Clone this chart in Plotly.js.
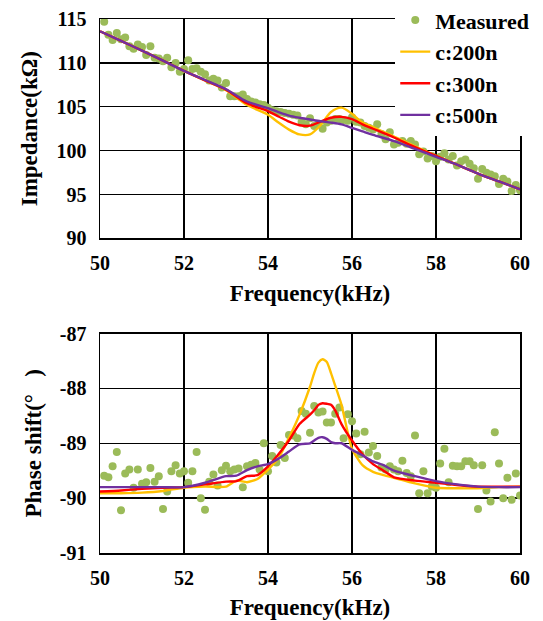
<!DOCTYPE html>
<html>
<head>
<meta charset="utf-8">
<script src="https://cdn.plot.ly/plotly-3.0.1.min.js"></script>
<style>html,body{margin:0;padding:0;background:#fff;}#chart{width:543px;height:621px;}</style>
</head>
<body>
<div id="chart"></div>
<script>
// ---- Measured frequencies (kHz) ----
const measFreq = [50.1,50.2,50.3,50.4,50.5,50.6,50.7,50.8,50.9,51.0,51.1,51.2,51.3,51.4,51.5,51.6,51.7,51.8,51.9,52.0,
52.1,52.2,52.3,52.4,52.5,52.6,52.7,52.8,52.9,53.0,53.1,53.2,53.3,53.4,53.5,53.6,53.7,53.8,53.9,54.0,
54.1,54.2,54.3,54.4,54.5,54.6,54.7,54.8,54.9,55.0,55.1,55.2,55.3,55.4,55.5,55.6,55.7,55.8,55.9,56.0,
56.1,56.2,56.3,56.4,56.5,56.6,56.7,56.8,56.9,57.0,57.1,57.2,57.3,57.4,57.5,57.6,57.7,57.8,57.9,58.0,
58.1,58.2,58.3,58.4,58.5,58.6,58.7,58.8,58.9,59.0,59.1,59.2,59.3,59.4,59.5,59.6,59.7,59.8,59.9,60.0];

// ---- Impedance measured (kOhm) ----
const measImpedance = [114.7,113.2,112.6,113.4,112.7,112.9,111.9,111.6,112.1,111.8,110.9,111.9,110.6,110.5,110.2,110.6,109.5,110.0,109.0,109.3,
110.3,109.3,109.4,109.0,108.7,108.0,108.2,108.0,107.2,107.7,106.2,106.2,106.2,106.4,105.9,105.6,105.5,105.3,105.2,104.9,
104.6,104.5,104.4,104.3,104.2,104.1,104.0,103.3,103.0,103.7,102.8,103.0,102.5,103.2,103.4,103.6,103.6,103.5,103.4,103.8,
103.3,103.2,102.8,102.6,102.4,103.0,101.9,101.3,102.1,100.7,100.9,101.1,100.8,101.1,100.7,99.6,99.9,99.1,99.4,98.8,
99.3,99.7,99.0,99.4,98.3,98.8,99.0,98.5,98.0,96.8,97.9,97.5,97.3,97.1,96.2,96.8,96.5,95.4,96.1,95.5];

// ---- Impedance model curves ----
const impFreq = [50,50.5,51,51.5,52,52.5,53,53.5,54,54.25,54.5,54.75,55,55.25,55.5,55.75,56,56.25,56.5,57,57.5,58,58.5,59,59.5,60];
const imp200n = [113.6,112.5,111.4,110.25,109.1,108.0,106.9,105.2,104.1,103.2,102.4,101.85,101.85,102.9,104.4,104.9,104.2,103.2,102.7,101.6,100.5,99.4,98.4,97.4,96.5,95.6];
const imp300n = [113.6,112.5,111.4,110.25,109.1,108.0,106.95,105.4,104.5,103.9,103.3,102.9,102.85,103.3,103.75,103.85,103.6,103.0,102.5,101.5,100.4,99.4,98.4,97.4,96.5,95.6];
const imp500n = [113.6,112.5,111.4,110.25,109.1,108.05,107.0,105.6,104.85,104.4,104.0,103.75,103.55,103.35,103.2,103.0,102.6,102.2,101.8,101.1,100.2,99.3,98.4,97.4,96.5,95.6];

// ---- Phase measured (degree) ----
const measPhase = [-89.59,-89.62,-89.42,-89.16,-90.22,-89.55,-89.48,-89.81,-89.48,-89.74,-89.71,-89.45,-89.70,-89.60,-90.20,-89.88,-89.51,-89.40,-89.55,-89.51,
-89.72,-89.51,-89.16,-90.00,-90.21,-89.70,-89.57,-89.77,-89.49,-89.41,-89.51,-89.48,-89.46,-89.80,-89.42,-89.39,-89.36,-89.48,-89.00,-89.51,
-89.23,-89.35,-89.03,-89.27,-88.85,-88.86,-88.91,-88.41,-88.46,-88.81,-88.32,-88.44,-88.42,-88.62,-88.62,-88.46,-88.35,-88.91,-88.47,-88.60,
-88.82,-89.20,-88.79,-89.17,-89.05,-89.23,-89.44,-89.48,-89.42,-89.48,-89.51,-89.32,-89.54,-89.60,-88.86,-89.91,-89.51,-89.91,-89.79,-89.81,
-89.37,-89.10,-89.71,-89.41,-89.42,-89.42,-89.33,-89.33,-89.40,-90.20,-89.40,-89.86,-90.06,-88.80,-89.37,-90.00,-89.63,-90.03,-89.55,-89.95];

// ---- Phase model curves ----
const phFreq = [50,50.5,51,51.5,52,52.5,53,53.25,53.5,53.75,54,54.25,54.5,54.75,55,55.1,55.2,55.3,55.4,55.5,55.6,55.75,56,56.25,56.5,56.75,57,57.5,58,58.5,59,59.5,60];
const ph200n = [-89.91,-89.91,-89.90,-89.87,-89.81,-89.79,-89.79,-89.68,-89.71,-89.65,-89.48,-89.27,-88.90,-88.48,-87.97,-87.72,-87.53,-87.47,-87.52,-87.72,-87.95,-88.30,-89.10,-89.40,-89.52,-89.58,-89.63,-89.73,-89.81,-89.82,-89.82,-89.80,-89.79];
const ph300n = [-89.88,-89.86,-89.83,-89.81,-89.80,-89.75,-89.70,-89.69,-89.60,-89.58,-89.42,-89.20,-88.95,-88.65,-88.48,-88.40,-88.30,-88.27,-88.28,-88.30,-88.40,-88.65,-88.95,-89.20,-89.38,-89.50,-89.62,-89.68,-89.72,-89.76,-89.79,-89.79,-89.79];
const ph500n = [-89.80,-89.80,-89.80,-89.80,-89.80,-89.72,-89.60,-89.59,-89.49,-89.42,-89.38,-89.28,-89.15,-89.02,-89.00,-88.95,-88.90,-88.89,-88.92,-88.98,-89.00,-89.00,-89.12,-89.22,-89.33,-89.40,-89.50,-89.60,-89.69,-89.75,-89.79,-89.80,-89.80];

// ---- Tick labels ----
const freqTicks = [50,52,54,56,58,60];
const impTicks = [90,95,100,105,110,115];
const phaseTicks = [-91,-90,-89,-88,-87];
const phaseTickText = ["-91","-90","-89","-88","-87"];
const seriesNames = ["Measured","c:200n","c:300n","c:500n"];

const FONT = "Liberation Serif, Times New Roman, serif";
const cMeas = "#9BBB59", c200 = "#FFC000", c300 = "#FF0000", c500 = "#7030A0";

const traces = [
  {x: measFreq, y: measImpedance, mode: "markers", type: "scatter", name: seriesNames[0],
   marker: {color: cMeas, size: 8}, xaxis: "x", yaxis: "y"},
  {x: impFreq, y: imp200n, mode: "lines", type: "scatter", name: seriesNames[1],
   line: {color: c200, width: 2.4, shape: "spline", smoothing: 0.8}, xaxis: "x", yaxis: "y"},
  {x: impFreq, y: imp300n, mode: "lines", type: "scatter", name: seriesNames[2],
   line: {color: c300, width: 2.4, shape: "spline", smoothing: 0.8}, xaxis: "x", yaxis: "y"},
  {x: impFreq, y: imp500n, mode: "lines", type: "scatter", name: seriesNames[3],
   line: {color: c500, width: 2.4, shape: "spline", smoothing: 0.8}, xaxis: "x", yaxis: "y"},
  {x: measFreq, y: measPhase, mode: "markers", type: "scatter", name: seriesNames[0], showlegend: false,
   marker: {color: cMeas, size: 8}, xaxis: "x2", yaxis: "y2"},
  {x: phFreq, y: ph200n, mode: "lines", type: "scatter", name: seriesNames[1], showlegend: false,
   line: {color: c200, width: 2.4, shape: "spline", smoothing: 0.6}, xaxis: "x2", yaxis: "y2"},
  {x: phFreq, y: ph300n, mode: "lines", type: "scatter", name: seriesNames[2], showlegend: false,
   line: {color: c300, width: 2.4, shape: "spline", smoothing: 0.6}, xaxis: "x2", yaxis: "y2"},
  {x: phFreq, y: ph500n, mode: "lines", type: "scatter", name: seriesNames[3], showlegend: false,
   line: {color: c500, width: 2.4, shape: "spline", smoothing: 0.6}, xaxis: "x2", yaxis: "y2"}
];

const tickFont = {family: FONT, size: 20, color: "#000", weight: "bold"};
const titleFont = {family: FONT, size: 23, color: "#000", weight: "bold"};

function xAx(anchor, title, standoff) {
  return {anchor: anchor, range: [50,60], tickvals: freqTicks, ticktext: freqTicks.map(String),
    showgrid: true, gridcolor: "#000", gridwidth: 1.3, showline: true, linecolor: "#000", linewidth: 1.5,
    mirror: true, zeroline: false, ticks: "", tickfont: tickFont, ticklabelstandoff: 6,
    title: {text: title, font: titleFont, standoff: standoff}};
}
function yAx(domain, range, vals, text, title) {
  return {domain: domain, range: range, tickvals: vals, ticktext: text,
    showgrid: true, gridcolor: "#000", gridwidth: 1.3, showline: true, linecolor: "#000", linewidth: 1.5,
    mirror: true, zeroline: false, ticks: "", tickfont: tickFont, ticklabelstandoff: 8,
    title: {text: title, font: titleFont, standoff: 12}};
}
const layout = {
  width: 543, height: 621,
  margin: {l: 100, r: 23, t: 19, b: 68, autoexpand: false},
  paper_bgcolor: "#fff", plot_bgcolor: "#fff",
  showlegend: true,
  font: {family: FONT, color: "#000"},
  xaxis: Object.assign(xAx("y", "Frequency(kHz)", 12), {domain: [0,1]}),
  xaxis2: Object.assign(xAx("y2", "Frequency(kHz)", 11), {domain: [0,1]}),
  yaxis: yAx([0.589, 1], [90,115], impTicks, impTicks.map(String), "Impedance(kΩ)"),
  yaxis2: yAx([0, 0.411], [-91,-87], phaseTicks, phaseTickText, "Phase shift(°   )"),
  legend: {x: 0.703, y: 1.037, xanchor: "left", yanchor: "top", bgcolor: "#fff", borderwidth: 0,
    font: {family: FONT, size: 22, color: "#000", weight: "bold"}, itemwidth: 30, tracegroupgap: 0}
};

Plotly.newPlot("chart", traces, layout, {displayModeBar: false, staticPlot: true});
</script>
</body>
</html>
